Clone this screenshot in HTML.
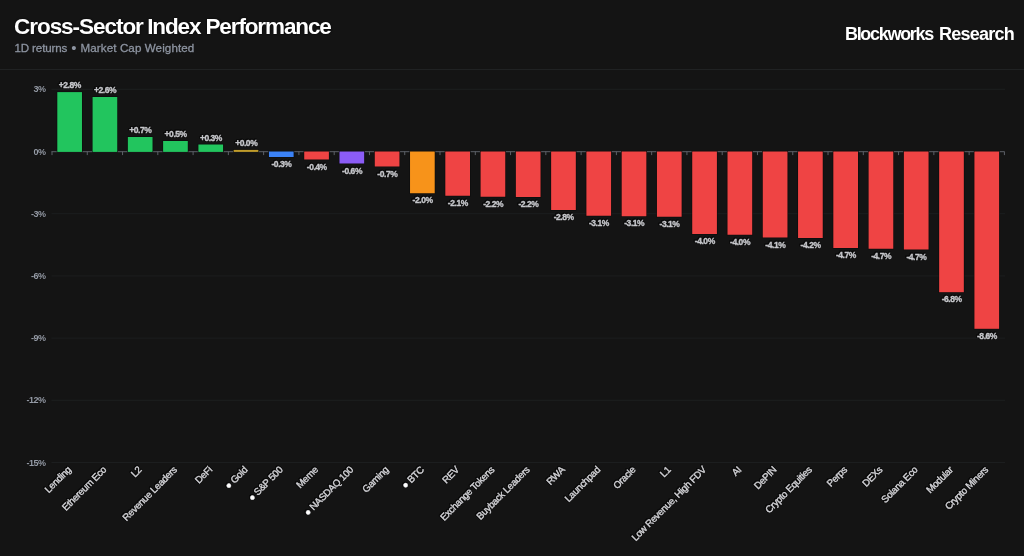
<!DOCTYPE html>
<html><head><meta charset="utf-8"><title>Cross-Sector Index Performance</title>
<style>
html,body{margin:0;padding:0;background:#141414;}
body{width:1024px;height:556px;position:relative;overflow:hidden;font-family:"Liberation Sans",sans-serif;}
.title{position:absolute;left:14px;top:14.6px;font-size:22.5px;font-weight:bold;color:#fff;white-space:nowrap;line-height:24px;letter-spacing:-1.12px;text-shadow:0 0 2px #000}
.sub{position:absolute;left:14.5px;top:40.5px;font-size:11.6px;color:#8d94a1;white-space:nowrap;line-height:14px;letter-spacing:0.1px;-webkit-text-stroke:0.3px #8d94a1}
.brand{position:absolute;right:10px;top:23.4px;font-size:18px;font-weight:bold;color:#fff;white-space:nowrap;line-height:22px;letter-spacing:-0.95px}
.b1{letter-spacing:-1.3px}
.b2{letter-spacing:-0.75px}
.brand{word-spacing:1.9px}
.t1{letter-spacing:-1.04px;margin-right:-0.8px}
.s1{letter-spacing:-0.14px}
.bu{white-space:pre;font-size:15px;line-height:0;vertical-align:-1px;letter-spacing:-0.1px;-webkit-text-stroke:0}
.halo{filter:drop-shadow(0.9px 0 0 #0b0b0b) drop-shadow(-0.9px 0 0 #0b0b0b) drop-shadow(0 0.9px 0 #0b0b0b) drop-shadow(0 -0.9px 0 #0b0b0b)}
.hr{position:absolute;left:0;top:69px;width:1024px;height:1px;background:#202223}
svg text{font-family:"Liberation Sans",sans-serif;}
.yl{font-size:9px;font-weight:bold;fill:#959ba6;letter-spacing:-0.5px;paint-order:stroke;stroke:#111;stroke-width:0.6px}
.vl{font-size:8.5px;letter-spacing:-0.45px;font-weight:bold}
.vi{fill:#c6c7cb;stroke:#c6c7cb;stroke-width:0.35px}
.xl{font-size:98px;letter-spacing:-3.6px;text-rendering:geometricPrecision}
.xi{fill:#d2d2d6;stroke:#d2d2d6;stroke-width:4px}
.dot{font-size:100px;fill:#fff}
</style></head><body>
<div class="title"><span class="t1">Cross-Sector</span> Index Performance</div>
<div class="sub"><span class="s1">1D returns</span><span class="bu"> • </span>Market Cap Weighted</div>
<div class="brand"><span class="b1">Blockworks</span> <span class="b2">Research</span></div>
<div class="hr"></div>
<svg width="1024" height="556" viewBox="0 0 1024 556" style="position:absolute;left:0;top:0">
<line x1="51.5" x2="1005.0" y1="89.30" y2="89.30" stroke="#1c1e1f" stroke-width="1"/>
<text class="yl" x="45.6" y="92.40" text-anchor="end">3%</text>
<text class="yl" x="45.6" y="154.60" text-anchor="end">0%</text>
<line x1="51.5" x2="1005.0" y1="213.70" y2="213.70" stroke="#1c1e1f" stroke-width="1"/>
<text class="yl" x="45.6" y="216.80" text-anchor="end">-3%</text>
<line x1="51.5" x2="1005.0" y1="275.90" y2="275.90" stroke="#1c1e1f" stroke-width="1"/>
<text class="yl" x="45.6" y="279.00" text-anchor="end">-6%</text>
<line x1="51.5" x2="1005.0" y1="338.10" y2="338.10" stroke="#1c1e1f" stroke-width="1"/>
<text class="yl" x="45.6" y="341.20" text-anchor="end">-9%</text>
<line x1="51.5" x2="1005.0" y1="400.30" y2="400.30" stroke="#1c1e1f" stroke-width="1"/>
<text class="yl" x="45.6" y="403.40" text-anchor="end">-12%</text>
<line x1="51.5" x2="1005.0" y1="462.50" y2="462.50" stroke="#1c1e1f" stroke-width="1"/>
<text class="yl" x="45.6" y="465.60" text-anchor="end">-15%</text>
<line x1="51.5" x2="1004.4" y1="151.70" y2="151.70" stroke="#5d6168" stroke-width="1"/>
<line x1="52.00" x2="52.00" y1="151.50" y2="155.10" stroke="#5d6168" stroke-width="1"/>
<line x1="87.27" x2="87.27" y1="151.50" y2="155.10" stroke="#5d6168" stroke-width="1"/>
<line x1="122.55" x2="122.55" y1="151.50" y2="155.10" stroke="#5d6168" stroke-width="1"/>
<line x1="157.82" x2="157.82" y1="151.50" y2="155.10" stroke="#5d6168" stroke-width="1"/>
<line x1="193.10" x2="193.10" y1="151.50" y2="155.10" stroke="#5d6168" stroke-width="1"/>
<line x1="228.37" x2="228.37" y1="151.50" y2="155.10" stroke="#5d6168" stroke-width="1"/>
<line x1="263.64" x2="263.64" y1="151.50" y2="155.10" stroke="#5d6168" stroke-width="1"/>
<line x1="298.92" x2="298.92" y1="151.50" y2="155.10" stroke="#5d6168" stroke-width="1"/>
<line x1="334.19" x2="334.19" y1="151.50" y2="155.10" stroke="#5d6168" stroke-width="1"/>
<line x1="369.47" x2="369.47" y1="151.50" y2="155.10" stroke="#5d6168" stroke-width="1"/>
<line x1="404.74" x2="404.74" y1="151.50" y2="155.10" stroke="#5d6168" stroke-width="1"/>
<line x1="440.01" x2="440.01" y1="151.50" y2="155.10" stroke="#5d6168" stroke-width="1"/>
<line x1="475.29" x2="475.29" y1="151.50" y2="155.10" stroke="#5d6168" stroke-width="1"/>
<line x1="510.56" x2="510.56" y1="151.50" y2="155.10" stroke="#5d6168" stroke-width="1"/>
<line x1="545.84" x2="545.84" y1="151.50" y2="155.10" stroke="#5d6168" stroke-width="1"/>
<line x1="581.11" x2="581.11" y1="151.50" y2="155.10" stroke="#5d6168" stroke-width="1"/>
<line x1="616.39" x2="616.39" y1="151.50" y2="155.10" stroke="#5d6168" stroke-width="1"/>
<line x1="651.66" x2="651.66" y1="151.50" y2="155.10" stroke="#5d6168" stroke-width="1"/>
<line x1="686.93" x2="686.93" y1="151.50" y2="155.10" stroke="#5d6168" stroke-width="1"/>
<line x1="722.21" x2="722.21" y1="151.50" y2="155.10" stroke="#5d6168" stroke-width="1"/>
<line x1="757.48" x2="757.48" y1="151.50" y2="155.10" stroke="#5d6168" stroke-width="1"/>
<line x1="792.76" x2="792.76" y1="151.50" y2="155.10" stroke="#5d6168" stroke-width="1"/>
<line x1="828.03" x2="828.03" y1="151.50" y2="155.10" stroke="#5d6168" stroke-width="1"/>
<line x1="863.30" x2="863.30" y1="151.50" y2="155.10" stroke="#5d6168" stroke-width="1"/>
<line x1="898.58" x2="898.58" y1="151.50" y2="155.10" stroke="#5d6168" stroke-width="1"/>
<line x1="933.85" x2="933.85" y1="151.50" y2="155.10" stroke="#5d6168" stroke-width="1"/>
<line x1="969.13" x2="969.13" y1="151.50" y2="155.10" stroke="#5d6168" stroke-width="1"/>
<line x1="1004.40" x2="1004.40" y1="151.50" y2="155.10" stroke="#5d6168" stroke-width="1"/>
<rect x="57.29" y="92.10" width="24.69" height="59.80" fill="#22c55e" stroke="#0d0d0d" stroke-width="1.2" paint-order="stroke"/>
<rect x="92.57" y="97.00" width="24.69" height="54.90" fill="#22c55e" stroke="#0d0d0d" stroke-width="1.2" paint-order="stroke"/>
<rect x="127.84" y="137.00" width="24.69" height="14.90" fill="#22c55e" stroke="#0d0d0d" stroke-width="1.2" paint-order="stroke"/>
<rect x="163.11" y="141.00" width="24.69" height="10.90" fill="#22c55e" stroke="#0d0d0d" stroke-width="1.2" paint-order="stroke"/>
<rect x="198.39" y="144.50" width="24.69" height="7.40" fill="#22c55e" stroke="#0d0d0d" stroke-width="1.2" paint-order="stroke"/>
<rect x="233.66" y="149.90" width="24.69" height="2.00" fill="#bf9b2a" stroke="#0d0d0d" stroke-width="1.2" paint-order="stroke"/>
<rect x="268.94" y="151.50" width="24.69" height="5.50" fill="#3b82f6" stroke="#0d0d0d" stroke-width="1.2" paint-order="stroke"/>
<rect x="304.21" y="151.50" width="24.69" height="8.00" fill="#ef4444" stroke="#0d0d0d" stroke-width="1.2" paint-order="stroke"/>
<rect x="339.48" y="151.50" width="24.69" height="12.00" fill="#8b5cf6" stroke="#0d0d0d" stroke-width="1.2" paint-order="stroke"/>
<rect x="374.76" y="151.50" width="24.69" height="15.00" fill="#ef4444" stroke="#0d0d0d" stroke-width="1.2" paint-order="stroke"/>
<rect x="410.03" y="151.50" width="24.69" height="41.75" fill="#f7931a" stroke="#0d0d0d" stroke-width="1.2" paint-order="stroke"/>
<rect x="445.31" y="151.50" width="24.69" height="44.25" fill="#ef4444" stroke="#0d0d0d" stroke-width="1.2" paint-order="stroke"/>
<rect x="480.58" y="151.50" width="24.69" height="45.25" fill="#ef4444" stroke="#0d0d0d" stroke-width="1.2" paint-order="stroke"/>
<rect x="515.85" y="151.50" width="24.69" height="45.50" fill="#ef4444" stroke="#0d0d0d" stroke-width="1.2" paint-order="stroke"/>
<rect x="551.13" y="151.50" width="24.69" height="58.50" fill="#ef4444" stroke="#0d0d0d" stroke-width="1.2" paint-order="stroke"/>
<rect x="586.40" y="151.50" width="24.69" height="64.25" fill="#ef4444" stroke="#0d0d0d" stroke-width="1.2" paint-order="stroke"/>
<rect x="621.68" y="151.50" width="24.69" height="64.75" fill="#ef4444" stroke="#0d0d0d" stroke-width="1.2" paint-order="stroke"/>
<rect x="656.95" y="151.50" width="24.69" height="65.25" fill="#ef4444" stroke="#0d0d0d" stroke-width="1.2" paint-order="stroke"/>
<rect x="692.22" y="151.50" width="24.69" height="82.50" fill="#ef4444" stroke="#0d0d0d" stroke-width="1.2" paint-order="stroke"/>
<rect x="727.50" y="151.50" width="24.69" height="83.25" fill="#ef4444" stroke="#0d0d0d" stroke-width="1.2" paint-order="stroke"/>
<rect x="762.77" y="151.50" width="24.69" height="86.00" fill="#ef4444" stroke="#0d0d0d" stroke-width="1.2" paint-order="stroke"/>
<rect x="798.05" y="151.50" width="24.69" height="86.50" fill="#ef4444" stroke="#0d0d0d" stroke-width="1.2" paint-order="stroke"/>
<rect x="833.32" y="151.50" width="24.69" height="96.50" fill="#ef4444" stroke="#0d0d0d" stroke-width="1.2" paint-order="stroke"/>
<rect x="868.59" y="151.50" width="24.69" height="97.25" fill="#ef4444" stroke="#0d0d0d" stroke-width="1.2" paint-order="stroke"/>
<rect x="903.87" y="151.50" width="24.69" height="98.00" fill="#ef4444" stroke="#0d0d0d" stroke-width="1.2" paint-order="stroke"/>
<rect x="939.14" y="151.50" width="24.69" height="140.70" fill="#ef4444" stroke="#0d0d0d" stroke-width="1.2" paint-order="stroke"/>
<rect x="974.42" y="151.50" width="24.69" height="177.30" fill="#ef4444" stroke="#0d0d0d" stroke-width="1.2" paint-order="stroke"/>
<g class="halo">
<text class="vl vi" x="69.84" y="88.10" text-anchor="middle">+2.8%</text>
<text class="vl vi" x="105.11" y="93.00" text-anchor="middle">+2.6%</text>
<text class="vl vi" x="140.39" y="133.00" text-anchor="middle">+0.7%</text>
<text class="vl vi" x="175.66" y="137.00" text-anchor="middle">+0.5%</text>
<text class="vl vi" x="210.93" y="140.50" text-anchor="middle">+0.3%</text>
<text class="vl vi" x="246.21" y="145.90" text-anchor="middle">+0.0%</text>
<text class="vl vi" x="281.48" y="167.20" text-anchor="middle">-0.3%</text>
<text class="vl vi" x="316.76" y="169.70" text-anchor="middle">-0.4%</text>
<text class="vl vi" x="352.03" y="173.70" text-anchor="middle">-0.6%</text>
<text class="vl vi" x="387.30" y="176.70" text-anchor="middle">-0.7%</text>
<text class="vl vi" x="422.58" y="203.45" text-anchor="middle">-2.0%</text>
<text class="vl vi" x="457.85" y="205.95" text-anchor="middle">-2.1%</text>
<text class="vl vi" x="493.13" y="206.95" text-anchor="middle">-2.2%</text>
<text class="vl vi" x="528.40" y="207.20" text-anchor="middle">-2.2%</text>
<text class="vl vi" x="563.67" y="220.20" text-anchor="middle">-2.8%</text>
<text class="vl vi" x="598.95" y="225.95" text-anchor="middle">-3.1%</text>
<text class="vl vi" x="634.22" y="226.45" text-anchor="middle">-3.1%</text>
<text class="vl vi" x="669.50" y="226.95" text-anchor="middle">-3.1%</text>
<text class="vl vi" x="704.77" y="244.20" text-anchor="middle">-4.0%</text>
<text class="vl vi" x="740.04" y="244.95" text-anchor="middle">-4.0%</text>
<text class="vl vi" x="775.32" y="247.70" text-anchor="middle">-4.1%</text>
<text class="vl vi" x="810.59" y="248.20" text-anchor="middle">-4.2%</text>
<text class="vl vi" x="845.87" y="258.20" text-anchor="middle">-4.7%</text>
<text class="vl vi" x="881.14" y="258.95" text-anchor="middle">-4.7%</text>
<text class="vl vi" x="916.41" y="259.70" text-anchor="middle">-4.7%</text>
<text class="vl vi" x="951.69" y="302.40" text-anchor="middle">-6.8%</text>
<text class="vl vi" x="986.96" y="339.00" text-anchor="middle">-8.6%</text>
<text class="xl xi" transform="translate(71.64,470.50) rotate(-45) scale(0.1)" text-anchor="end">Lending</text>
<text class="xl xi" transform="translate(106.91,470.50) rotate(-45) scale(0.1)" text-anchor="end">Ethereum Eco</text>
<text class="xl xi" transform="translate(142.19,470.50) rotate(-45) scale(0.1)" text-anchor="end">L2</text>
<text class="xl xi" transform="translate(177.46,470.50) rotate(-45) scale(0.1)" text-anchor="end">Revenue Leaders</text>
<text class="xl xi" transform="translate(212.73,470.50) rotate(-45) scale(0.1)" text-anchor="end">DeFi</text>
<text class="xl xi" transform="translate(248.01,470.50) rotate(-45) scale(0.1)" text-anchor="end"><tspan class="dot">●</tspan> Gold</text>
<text class="xl xi" transform="translate(283.28,470.50) rotate(-45) scale(0.1)" text-anchor="end"><tspan class="dot">●</tspan> S&amp;P 500</text>
<text class="xl xi" transform="translate(318.56,470.50) rotate(-45) scale(0.1)" text-anchor="end">Meme</text>
<text class="xl xi" transform="translate(353.83,470.50) rotate(-45) scale(0.1)" text-anchor="end"><tspan class="dot">●</tspan> NASDAQ 100</text>
<text class="xl xi" transform="translate(389.10,470.50) rotate(-45) scale(0.1)" text-anchor="end">Gaming</text>
<text class="xl xi" transform="translate(424.38,470.50) rotate(-45) scale(0.1)" text-anchor="end"><tspan class="dot">●</tspan> BTC</text>
<text class="xl xi" transform="translate(459.65,470.50) rotate(-45) scale(0.1)" text-anchor="end">REV</text>
<text class="xl xi" transform="translate(494.93,470.50) rotate(-45) scale(0.1)" text-anchor="end">Exchange Tokens</text>
<text class="xl xi" transform="translate(530.20,470.50) rotate(-45) scale(0.1)" text-anchor="end">Buyback Leaders</text>
<text class="xl xi" transform="translate(565.47,470.50) rotate(-45) scale(0.1)" text-anchor="end">RWA</text>
<text class="xl xi" transform="translate(600.75,470.50) rotate(-45) scale(0.1)" text-anchor="end">Launchpad</text>
<text class="xl xi" transform="translate(636.02,470.50) rotate(-45) scale(0.1)" text-anchor="end">Oracle</text>
<text class="xl xi" transform="translate(671.30,470.50) rotate(-45) scale(0.1)" text-anchor="end">L1</text>
<text class="xl xi" transform="translate(706.57,470.50) rotate(-45) scale(0.1)" text-anchor="end">Low Revenue, High FDV</text>
<text class="xl xi" transform="translate(741.84,470.50) rotate(-45) scale(0.1)" text-anchor="end">AI</text>
<text class="xl xi" transform="translate(777.12,470.50) rotate(-45) scale(0.1)" text-anchor="end">DePIN</text>
<text class="xl xi" transform="translate(812.39,470.50) rotate(-45) scale(0.1)" text-anchor="end">Crypto Equities</text>
<text class="xl xi" transform="translate(847.67,470.50) rotate(-45) scale(0.1)" text-anchor="end">Perps</text>
<text class="xl xi" transform="translate(882.94,470.50) rotate(-45) scale(0.1)" text-anchor="end">DEXs</text>
<text class="xl xi" transform="translate(918.21,470.50) rotate(-45) scale(0.1)" text-anchor="end">Solana Eco</text>
<text class="xl xi" transform="translate(953.49,470.50) rotate(-45) scale(0.1)" text-anchor="end">Modular</text>
<text class="xl xi" transform="translate(988.76,470.50) rotate(-45) scale(0.1)" text-anchor="end">Crypto Miners</text>
</g>
</svg>
</body></html>
